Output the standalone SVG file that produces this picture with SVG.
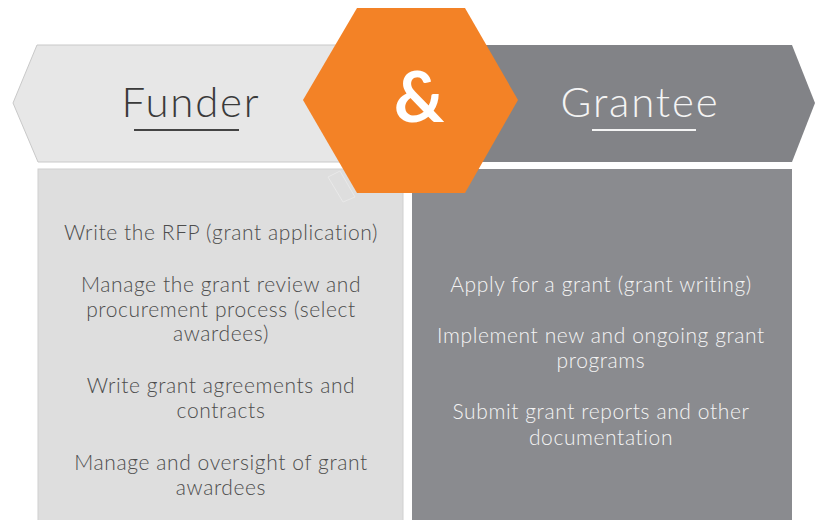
<svg xmlns="http://www.w3.org/2000/svg" width="820" height="520" viewBox="0 0 820 520">
  <style>
    .head { font-family: Lato, "Open Sans", "Liberation Sans", sans-serif; font-size: 42px; font-weight: 300; letter-spacing: 1.8px; text-anchor: middle; }
    .body { font-family: Lato, "Open Sans", "Liberation Sans", sans-serif; font-size: 21px; font-weight: 300; letter-spacing: 0.6px; text-anchor: middle; }
    .dark { fill: #4d4d4d; }
    .light { fill: #f4f4f4; }
  </style>
  <rect x="0" y="0" width="820" height="520" fill="#ffffff"/>
  <g id="funder-banner">
    <polygon points="37,45 380,45 380,162 38,162 13,103" fill="#e7e7e7" stroke="#c9c9c9" stroke-width="1"/>
    <text class="head" x="191" y="117" fill="#3a3a3a">Funder</text>
    <line x1="134" y1="130" x2="239" y2="130" stroke="#444" stroke-width="2"/>
  </g>
  <g id="grantee-banner">
    <polygon points="440,45 792,45 815,103 792,162 440,162" fill="#828387"/>
    <text class="head" x="640" y="117" fill="#f4f4f4">Grantee</text>
    <line x1="592" y1="130" x2="696" y2="130" stroke="#f4f4f4" stroke-width="2"/>
  </g>
  <g id="funder-box">
    <rect x="38" y="169" width="365" height="360" fill="#dedede" stroke="#d0d0d0" stroke-width="1"/>
    <polygon points="328,177 340,171 355,197 343,202" fill="none" stroke="#e9e9e9" stroke-width="1"/>
    <text class="body dark" x="221" y="240">Write the RFP (grant application)</text>
    <text class="body dark" x="221" y="292">Manage the grant review and</text>
    <text class="body dark" x="221" y="317">procurement process (select</text>
    <text class="body dark" x="221" y="341">awardees)</text>
    <text class="body dark" x="221" y="393">Write grant agreements and</text>
    <text class="body dark" x="221" y="418">contracts</text>
    <text class="body dark" x="221" y="470">Manage and oversight of grant</text>
    <text class="body dark" x="221" y="495">awardees</text>
  </g>
  <g id="grantee-box">
    <rect x="412" y="169" width="380" height="360" fill="#8a8b8f"/>
    <text class="body light" x="601" y="292">Apply for a grant (grant writing)</text>
    <text class="body light" x="601" y="343">Implement new and ongoing grant</text>
    <text class="body light" x="601" y="368">programs</text>
    <text class="body light" x="601" y="419">Submit grant reports and other</text>
    <text class="body light" x="601" y="445">documentation</text>
  </g>
  <g id="and-hexagon">
    <polygon points="357,8 465,8 518,100 465,193 357,193 303,100" fill="#f38226"/>
    <text x="419" y="122" font-family="Lato, 'Liberation Sans', sans-serif" font-size="70" font-weight="700" fill="#ffffff" text-anchor="middle">&amp;</text>
  </g>
  <g id="connectors"/>
</svg>
